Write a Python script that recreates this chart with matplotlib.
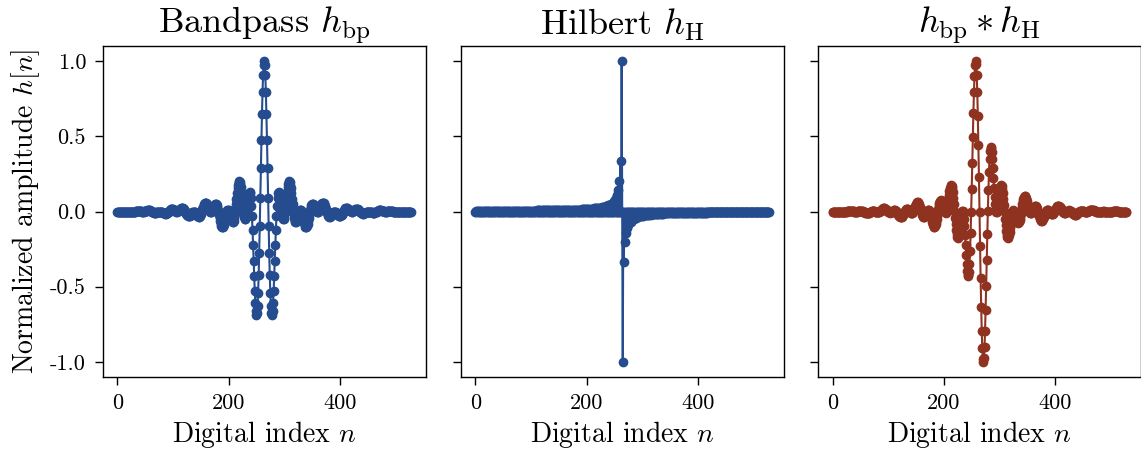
import matplotlib
matplotlib.use('Agg')
import matplotlib.pyplot as plt
import numpy as np

# Bandpass impulse response (normalized), n = 0 .. 528
h_bp = [
    0, 0, 0, 0, 0, 0, 0, 0, 0, 0, 0, 0, 0, 0, 0,
    0, 0, 0, 0, -.001, -.001, -.002, -.003, -.003, -.004,
    -.004, -.004, -.004, -.003, -.003, -.002, -.001, 0, .001, .002,
    .002, .003, .003, .003, .003, .002, .002, .001, .001, 0,
    0, 0, 0, .001, .001, .002, .004, .005, .006, .007,
    .007, .008, .007, .007, .005, .004, .002, 0, -.002, -.004,
    -.005, -.007, -.007, -.007, -.007, -.006, -.005, -.004, -.002, -.001,
    0, 0, 0, -.001, -.002, -.004, -.006, -.008, -.01, -.012,
    -.013, -.014, -.014, -.012, -.01, -.007, -.004, 0, .004, .008,
    .011, .014, .015, .016, .016, .014, .012, .01, .007, .004,
    .002, 0, 0, .001, .002, .005, .008, .012, .016, .019,
    .022, .023, .022, .021, .017, .012, .006, -.001, -.008, -.015,
    -.021, -.026, -.03, -.031, -.031, -.029, -.025, -.021, -.015, -.01,
    -.005, -.002, 0, 0, -.001, -.005, -.01, -.015, -.021, -.027,
    -.031, -.034, -.034, -.032, -.027, -.019, -.009, .002, .015, .027,
    .038, .047, .054, .057, .057, .054, .048, .04, .031, .021,
    .012, .004, -.001, -.003, -.003, .001, .008, .016, .026, .035,
    .043, .048, .049, .047, .04, .028, .013, -.005, -.025, -.046,
    -.065, -.082, -.094, -.102, -.104, -.1, -.091, -.077, -.061, -.043,
    -.025, -.009, .004, .011, .013, .01, .002, -.011, -.026, -.041,
    -.056, -.066, -.072, -.07, -.061, -.044, -.019, .012, .047, .084,
    .121, .153, .179, .196, .203, .199, .185, .161, .13, .093,
    .055, .019, -.011, -.034, -.047, -.047, -.037, -.016, .013, .046,
    .079, .107, .126, .132, .12, .088, .037, -.033, -.12, -.22,
    -.327, -.43, -.526, -.605, -.66, -.686, -.675, -.628, -.543, -.424,
    -.273, -.098, .092, .288, .477, .649, .796, .907, .976,
    1, .976, .907, .796, .649, .477, .288, .092, -.098, -.273,
    -.424, -.543, -.628, -.675, -.686, -.66, -.605, -.526, -.43, -.327,
    -.22, -.12, -.033, .037, .088, .12, .132, .126, .107, .079,
    .046, .013, -.016, -.037, -.047, -.047, -.034, -.011, .019, .055,
    .093, .13, .161, .185, .199, .203, .196, .179, .153, .121,
    .084, .047, .012, -.019, -.044, -.061, -.07, -.072, -.066, -.056,
    -.041, -.026, -.011, .002, .01, .013, .011, .004, -.009, -.025,
    -.043, -.061, -.077, -.091, -.1, -.104, -.102, -.094, -.082, -.065,
    -.046, -.025, -.005, .013, .028, .04, .047, .049, .048, .043,
    .035, .026, .016, .008, .001, -.003, -.003, -.001, .004, .012,
    .021, .031, .04, .048, .054, .057, .057, .054, .047, .038,
    .027, .015, .002, -.009, -.019, -.027, -.032, -.034, -.034, -.031,
    -.027, -.021, -.015, -.01, -.005, -.001, 0, 0, -.002, -.005,
    -.01, -.015, -.021, -.025, -.029, -.031, -.031, -.03, -.026, -.021,
    -.015, -.008, -.001, .006, .012, .017, .021, .022, .023, .022,
    .019, .016, .012, .008, .005, .002, .001, 0, 0, .002,
    .004, .007, .01, .012, .014, .016, .016, .015, .014, .011,
    .008, .004, 0, -.004, -.007, -.01, -.012, -.014, -.014, -.013,
    -.012, -.01, -.008, -.006, -.004, -.002, -.001, 0, 0, 0,
    -.001, -.002, -.004, -.005, -.006, -.007, -.007, -.007, -.007, -.005,
    -.004, -.002, 0, .002, .004, .005, .007, .007, .008, .007,
    .007, .006, .005, .004, .002, .001, .001, 0, 0, 0,
    0, .001, .001, .002, .002, .003, .003, .003, .003, .002,
    .002, .001, 0, -.001, -.002, -.003, -.003, -.004, -.004, -.004,
    -.004, -.003, -.003, -.002, -.001, -.001, 0, 0, 0, 0,
    0, 0, 0, 0, 0, 0, 0, 0, 0, 0, 0, 0, 0, 0, 0,
]

# Hilbert transformer taps (normalized), n = 0 .. 528
h_hilb = [
    0, .004, 0, .004, 0, .004, 0, .004, 0, .004, 0, .004, 0, .004,
    0, .004, 0, .004, 0, .004, 0, .004, 0, .004, 0, .004, 0, .004,
    0, .004, 0, .004, 0, .004, 0, .004, 0, .004, 0, .004, 0, .004,
    0, .005, 0, .005, 0, .005, 0, .005, 0, .005, 0, .005, 0, .005,
    0, .005, 0, .005, 0, .005, 0, .005, 0, .005, 0, .005, 0, .005,
    0, .005, 0, .005, 0, .005, 0, .005, 0, .005, 0, .005,
    0, .006, 0, .006, 0, .006, 0, .006, 0, .006, 0, .006, 0, .006,
    0, .006, 0, .006, 0, .006, 0, .006, 0, .006, 0, .006, 0, .006,
    0, .007, 0, .007, 0, .007, 0, .007, 0, .007,
    0, .007, 0, .007, 0, .007, 0, .007, 0, .007,
    0, .008, 0, .008, 0, .008, 0, .008, 0, .008, 0, .008, 0, .008, 0, .008,
    0, .009, 0, .009, 0, .009, 0, .009, 0, .009, 0, .009,
    0, .01, 0, .01, 0, .01, 0, .01, 0, .01,
    0, .011, 0, .011, 0, .011, 0, .011, 0, .011,
    0, .012, 0, .012, 0, .012, 0, .013, 0, .013, 0, .013,
    0, .014, 0, .014, 0, .014, 0, .015, 0, .015, 0, .016, 0, .016,
    0, .017, 0, .018, 0, .018, 0, .019, 0, .02, 0, .02,
    0, .021, 0, .022, 0, .023, 0, .024, 0, .026, 0, .027, 0, .029,
    0, .03, 0, .032, 0, .034, 0, .037, 0, .04, 0, .043, 0, .048,
    0, .053, 0, .059, 0, .067, 0, .077, 0, .091, 0, .111, 0, .143,
    0, .2, 0, .333, 0, 1,
    0,
    -1, 0, -.333, 0, -.2, 0, -.143, 0, -.111, 0, -.091, 0, -.077, 0,
    -.067, 0, -.059, 0, -.053, 0, -.048, 0, -.043, 0, -.04, 0, -.037, 0,
    -.034, 0, -.032, 0, -.03, 0, -.029, 0, -.027, 0, -.026, 0, -.024, 0,
    -.023, 0, -.022, 0, -.021, 0, -.02, 0, -.02, 0, -.019, 0, -.018, 0,
    -.018, 0, -.017, 0, -.016, 0, -.016, 0, -.015, 0, -.015, 0,
    -.014, 0, -.014, 0, -.014, 0, -.013, 0, -.013, 0, -.013, 0,
    -.012, 0, -.012, 0, -.012, 0,
    -.011, 0, -.011, 0, -.011, 0, -.011, 0, -.011, 0,
    -.01, 0, -.01, 0, -.01, 0, -.01, 0, -.01, 0,
    -.009, 0, -.009, 0, -.009, 0, -.009, 0, -.009, 0, -.009, 0,
    -.008, 0, -.008, 0, -.008, 0, -.008, 0, -.008, 0, -.008, 0, -.008, 0, -.008, 0,
    -.007, 0, -.007, 0, -.007, 0, -.007, 0, -.007, 0,
    -.007, 0, -.007, 0, -.007, 0, -.007, 0, -.007, 0,
    -.006, 0, -.006, 0, -.006, 0, -.006, 0, -.006, 0, -.006, 0, -.006, 0,
    -.006, 0, -.006, 0, -.006, 0, -.006, 0, -.006, 0, -.006, 0, -.006, 0,
    -.005, 0, -.005, 0, -.005, 0, -.005, 0, -.005, 0, -.005, 0, -.005, 0,
    -.005, 0, -.005, 0, -.005, 0, -.005, 0, -.005, 0, -.005, 0, -.005, 0,
    -.005, 0, -.005, 0, -.005, 0, -.005, 0, -.005, 0, -.005, 0,
    -.004, 0, -.004, 0, -.004, 0, -.004, 0, -.004, 0, -.004, 0, -.004, 0,
    -.004, 0, -.004, 0, -.004, 0, -.004, 0, -.004, 0, -.004, 0, -.004, 0,
    -.004, 0, -.004, 0, -.004, 0, -.004, 0, -.004, 0, -.004, 0, -.004, 0,
]

# Bandpass convolved with Hilbert (normalized), n = 0 .. 528
h_conv = [
    0, 0, 0, 0, 0, 0, 0, 0, 0, 0, 0, 0, 0, 0, 0,
    -.001, -.001, -.002, -.002, -.002, -.002, -.002, -.002, -.001, -.001,
    0, .001, .002, .003, .004, .005, .005, .005, .005, .004,
    .004, .003, .002, .001, 0, 0, -.001, -.001, 0, 0,
    .001, .001, .002, .003, .004, .004, .004, .003, .002, .001,
    -.001, -.003, -.004, -.006, -.008, -.009, -.01, -.011, -.01, -.01,
    -.008, -.007, -.005, -.003, -.001, .001, .002, .002, .002, .002,
    .001, -.001, -.002, -.004, -.005, -.006, -.006, -.005, -.004, -.001,
    .002, .005, .009, .012, .016, .018, .02, .021, .02, .019,
    .017, .013, .01, .005, .002, -.002, -.004, -.006, -.007, -.006,
    -.005, -.003, 0, .003, .006, .007, .008, .007, .005, .002,
    -.003, -.009, -.015, -.021, -.027, -.032, -.036, -.037, -.037, -.035,
    -.03, -.025, -.018, -.01, -.003, .004, .01, .014, .016, .016,
    .014, .011, .006, .002, -.003, -.007, -.009, -.009, -.007, -.002,
    .005, .014, .024, .034, .044, .052, .059, .062, .062, .059,
    .052, .042, .031, .017, .004, -.009, -.02, -.028, -.034, -.035,
    -.034, -.029, -.022, -.014, -.006, .002, .007, .009, .007, .002,
    -.008, -.02, -.035, -.052, -.068, -.082, -.093, -.1, -.101, -.097,
    -.086, -.071, -.051, -.029, -.005, .018, .04, .056, .068, .074,
    .073, .068, .057, .043, .028, .013, .002, -.006, -.007, -.002,
    .011, .03, .053, .08, .108, .134, .155, .17, .175, .17,
    .154, .128, .093, .052, .006, -.041, -.085, -.122, -.15, -.168,
    -.173, -.167, -.149, -.123, -.092, -.06, -.03, -.008, .003, .001,
    -.017, -.05, -.097, -.155, -.22, -.286, -.346, -.394, -.423, -.428,
    -.403, -.348, -.262, -.146, -.006, .15, .323, .494, .653, .792,
    .902, .973, 1, .979, .909, .793, .635, .443, .228,
    0,
    -.228, -.443, -.635, -.793, -.909, -.979, -1, -.973, -.902,
    -.792, -.653, -.494, -.323, -.15, .006, .146, .262, .348, .403,
    .428, .423, .394, .346, .286, .22, .155, .097, .05, .017,
    -.001, -.003, .008, .03, .06, .092, .123, .149, .167, .173,
    .168, .15, .122, .085, .041, -.006, -.052, -.093, -.128, -.154,
    -.17, -.175, -.17, -.155, -.134, -.108, -.08, -.053, -.03, -.011,
    .002, .007, .006, -.002, -.013, -.028, -.043, -.057, -.068, -.073,
    -.074, -.068, -.056, -.04, -.018, .005, .029, .051, .071, .086,
    .097, .101, .1, .093, .082, .068, .052, .035, .02, .008,
    -.002, -.007, -.009, -.007, -.002, .006, .014, .022, .029, .034,
    .035, .034, .028, .02, .009, -.004, -.017, -.031, -.042, -.052,
    -.059, -.062, -.062, -.059, -.052, -.044, -.034, -.024, -.014, -.005,
    .002, .007, .009, .009, .007, .003, -.002, -.006, -.011, -.014,
    -.016, -.016, -.014, -.01, -.004, .003, .01, .018, .025, .03,
    .035, .037, .037, .036, .032, .027, .021, .015, .009, .003,
    -.002, -.005, -.007, -.008, -.007, -.006, -.003, 0, .003, .005,
    .006, .007, .006, .004, .002, -.002, -.005, -.01, -.013, -.017,
    -.019, -.02, -.021, -.02, -.018, -.016, -.012, -.009, -.005, -.002,
    .001, .004, .005, .006, .006, .005, .004, .002, .001, -.001,
    -.002, -.002, -.002, -.002, -.001, .001, .003, .005, .007, .008,
    .01, .01, .011, .01, .009, .008, .006, .004, .003, .001,
    -.001, -.002, -.003, -.004, -.004, -.004, -.003, -.002, -.001, -.001,
    0, 0, .001, .001, 0, 0, -.001, -.002, -.003, -.004,
    -.004, -.005, -.005, -.005, -.005, -.004, -.003, -.002, -.001, 0,
    .001, .001, .002, .002, .002, .002, .002, .002, .001, .001,
    0, 0, 0, 0, 0, 0, 0, 0, 0, 0, 0, 0, 0, 0, 0,
]

titles = [r'Bandpass $h_{\mathrm{bp}}$', r'Hilbert $h_{\mathrm{H}}$',
          r'$h_{\mathrm{bp}} * h_{\mathrm{H}}$']
series = [h_bp, h_hilb, h_conv]
colors = ['#244c8e', '#244c8e', '#8f3220']

plt.rcParams['font.family'] = 'cmr10'
plt.rcParams['mathtext.fontset'] = 'cm'
plt.rcParams['axes.unicode_minus'] = False
plt.rcParams['axes.linewidth'] = 1.0

fig = plt.figure(figsize=(11.41, 4.53), dpi=100)
W, H = 1141.0, 453.0
lefts = [102.7, 460.7, 818.0]
ax_w, ax_top, ax_bot = 323.0, 46.0, 377.0

axes = []
for i in range(3):
    rect = [lefts[i] / W, 1 - ax_bot / H, ax_w / W, (ax_bot - ax_top) / H]
    ax = fig.add_axes(rect, sharey=axes[0] if axes else None)
    axes.append(ax)

for i, ax in enumerate(axes):
    y = np.array(series[i], dtype=float)
    n = np.arange(len(y))
    ax.plot(n, y, 'o-', color=colors[i], ms=6, lw=1.5)
    ax.set_title(titles[i], fontsize=26, pad=8)
    ax.set_xlabel(r'Digital index $n$', fontsize=20, labelpad=4)
    ax.set_xticks([0, 200, 400])
    ax.set_yticks([-1, -0.5, 0, 0.5, 1])
    ax.tick_params(labelsize=16, length=6, width=1, pad=6)
    if i == 0:
        ax.set_yticklabels(['-1.0', '-0.5', '0.0', '0.5', '1.0'])
        ax.set_ylabel(r'Normalized amplitude $h[n]$', fontsize=20, labelpad=6)
    else:
        ax.tick_params(labelleft=False)

axes[0].set_ylim(-1.1, 1.1)

plt.savefig('out.png', dpi=100)
plt.close()
